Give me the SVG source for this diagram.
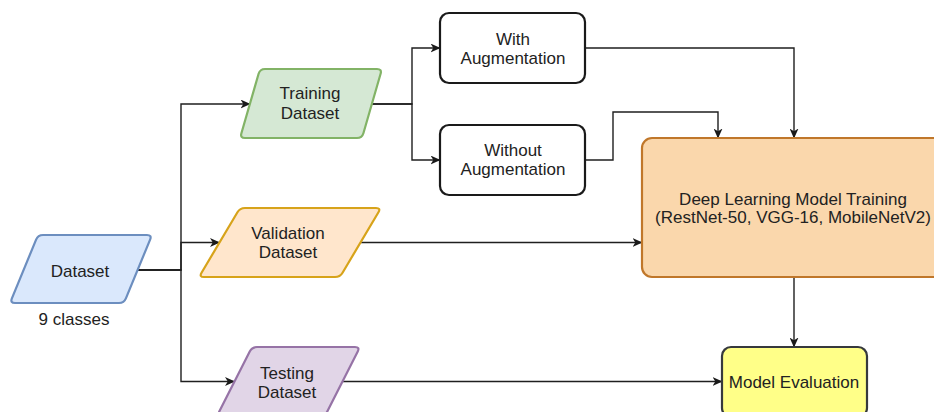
<svg xmlns="http://www.w3.org/2000/svg" width="934" height="412" viewBox="0 0 934 412">
<defs>
<marker id="arr" markerWidth="10" markerHeight="9" refX="9.5" refY="4.5" orient="auto" markerUnits="userSpaceOnUse">
<path d="M0,0 L10,4.5 L0,9 L2.8,4.5 Z" fill="#1a1a1a"/>
</marker>
<style>
.t{font-family:"Liberation Sans",Arial,Helvetica,sans-serif;font-size:17px;fill:#222;text-anchor:middle}
.e{fill:none;stroke:#1f1f1f;stroke-width:1.4}
.s{stroke-width:2.2;stroke-linejoin:round}
</style>
</defs>
<rect width="934" height="412" fill="#ffffff"/>
<g id="connectors">
<path class="e" d="M138,270 H181 V104 H250" marker-end="url(#arr)"/>
<path class="e" d="M138,270 H181 V242.5 H219.5" marker-end="url(#arr)"/>
<path class="e" d="M138,270 H181 V381.5 H234.5" marker-end="url(#arr)"/>
<path class="e" d="M372,104 H412 V48 H440" marker-end="url(#arr)"/>
<path class="e" d="M372,104 H412 V160 H440" marker-end="url(#arr)"/>
<path class="e" d="M585,48 H794 V138" marker-end="url(#arr)"/>
<path class="e" d="M585,160 H613 V112 H718 V138" marker-end="url(#arr)"/>
<path class="e" d="M360.5,242.5 H642" marker-end="url(#arr)"/>
<path class="e" d="M342.5,381.5 H722" marker-end="url(#arr)"/>
<path class="e" d="M794,277 V347" marker-end="url(#arr)"/>
</g>
<g id="dataset">
<path class="s" fill="#dae8fc" stroke="#6c8ebf" d="M43,235 L147,235 Q152,235 150.1,239.6 L125.9,298.4 Q124,303 119,303 L15,303 Q10,303 11.9,298.4 L36.1,239.6 Q38,235 43,235 Z"/>
<text class="t" x="80" y="277">Dataset</text>
<text class="t" x="74" y="325">9 classes</text>
</g>
<g id="training">
<path class="s" fill="#d5e8d4" stroke="#82b366" d="M265,69 L377,69 Q382,69 380.6,73.8 L363.4,133.2 Q362,138 357,138 L245,138 Q240,138 241.4,133.2 L258.6,73.8 Q260,69 265,69 Z"/>
<text class="t" x="310" y="99">Training</text>
<text class="t" x="310" y="119">Dataset</text>
</g>
<g id="validation">
<path class="s" fill="#ffe6cc" stroke="#d7a31a" d="M245,208 L376,208 Q381,208 378.45,212.3 L342.55,272.7 Q340,277 335,277 L204,277 Q199,277 201.55,272.7 L237.45,212.3 Q240,208 245,208 Z"/>
<text class="t" x="288" y="239">Validation</text>
<text class="t" x="288" y="258">Dataset</text>
</g>
<g id="testing">
<path class="s" fill="#e1d5e7" stroke="#9673a6" d="M257,347 L355,347 Q360,347 357.74,351.46 L327.26,411.54 Q325,416 320,416 L222,416 Q217,416 219.26,411.54 L249.74,351.46 Q252,347 257,347 Z"/>
<text class="t" x="287" y="379">Testing</text>
<text class="t" x="287" y="398">Dataset</text>
</g>
<g id="with-augmentation">
<rect class="s" x="440" y="13" width="145" height="70" rx="9" fill="#ffffff" stroke="#1a1a1a"/>
<text class="t" x="513" y="45">With</text>
<text class="t" x="513" y="64">Augmentation</text>
</g>
<g id="without-augmentation">
<rect class="s" x="440" y="125" width="145" height="70" rx="9" fill="#ffffff" stroke="#1a1a1a"/>
<text class="t" x="513" y="156">Without</text>
<text class="t" x="513" y="175">Augmentation</text>
</g>
<g id="dl-training">
<rect class="s" x="642" y="138" width="302" height="139" rx="10" fill="#fad7ac" stroke="#c0772a"/>
<text class="t" x="793" y="205">Deep Learning Model Training</text>
<text class="t" x="793" y="223">(RestNet-50, VGG-16, MobileNetV2)</text>
</g>
<g id="model-evaluation">
<rect class="s" x="722" y="347" width="145" height="70" rx="9" fill="#ffff88" stroke="#36393d"/>
<text class="t" x="794" y="388">Model Evaluation</text>
</g>
</svg>
